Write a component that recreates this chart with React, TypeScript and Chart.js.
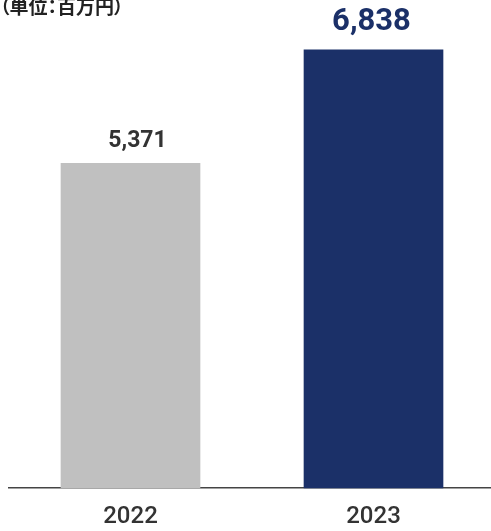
import React, { useEffect, useRef } from "react";
import { Chart, registerables } from "chart.js";

Chart.register(...registerables);

const categories: string[] = ["2022", "2023"];
const values: number[] = [5371, 6838];
const valueLabels: string[] = ["5,371", "6,838"];
const unitLabel = "（単位：百万円）";

const barColors = ["#c0c0c0", "#1b3068"];
const labelColors = ["#333333", "#1b3068"];
const labelFonts = [
  "bold 23px Roboto, 'Liberation Sans', Arial, sans-serif",
  "bold 31px Roboto, 'Liberation Sans', Arial, sans-serif",
];
const labelGaps = [16, 20];
const labelDx = [7, -2];

export default function App() {
  const canvasRef = useRef<HTMLCanvasElement | null>(null);

  useEffect(() => {
    if (!canvasRef.current) return;
    const valuePlugin = {
      id: "valueLabels",
      afterDatasetsDraw(chart: any) {
        const ctx = chart.ctx;
        const meta = chart.getDatasetMeta(0);
        ctx.save();
        meta.data.forEach((bar: any, i: number) => {
          ctx.font = labelFonts[i];
          ctx.fillStyle = labelColors[i];
          ctx.textAlign = "center";
          ctx.textBaseline = "alphabetic";
          ctx.fillText(valueLabels[i], bar.x + labelDx[i], bar.y - labelGaps[i]);
        });
        ctx.restore();
      },
    };
    const chart = new Chart(canvasRef.current, {
      type: "bar",
      data: {
        labels: categories,
        datasets: [
          {
            data: values,
            backgroundColor: barColors,
            borderWidth: 0,
            barThickness: 139,
          },
        ],
      },
      options: {
        animation: false,
        responsive: false,
        maintainAspectRatio: false,
        layout: { padding: { left: 9, right: 5, top: 0, bottom: 0 } },
        plugins: {
          legend: { display: false },
          tooltip: { enabled: false },
          title: { display: false },
        },
        scales: {
          x: {
            grid: { display: false, drawTicks: false },
            border: { display: true, color: "#444444", width: 1.5 },
            ticks: {
              color: "#333333",
              padding: 14,
              font: { family: "Roboto, 'Liberation Sans', Arial, sans-serif", size: 24, weight: "500", lineHeight: 1.2 },
            },
          },
          y: {
            display: false,
            min: 1176,
            max: 7481,
          },
        },
      },
      plugins: [valuePlugin],
    });
    return () => chart.destroy();
  }, []);

  return (
    <div
      style={{
        position: "absolute",
        left: 0,
        top: 0,
        width: 491,
        height: 531,
        overflow: "hidden",
        background: "#ffffff",
      }}
    >
      <canvas
        ref={canvasRef}
        width={500}
        height={545}
        style={{ position: "absolute", left: 0, top: 0, width: 500, height: 545 }}
      />
      <div
        style={{
          position: "absolute",
          left: 0,
          top: -4,
          fontFamily: "'Noto Sans CJK JP', sans-serif",
          fontWeight: "bold",
          fontSize: 19,
          lineHeight: "19px",
          color: "#222222",
          whiteSpace: "nowrap",
          fontFeatureSettings: '"palt"',
        }}
      >
        {unitLabel}
      </div>
    </div>
  );
}
